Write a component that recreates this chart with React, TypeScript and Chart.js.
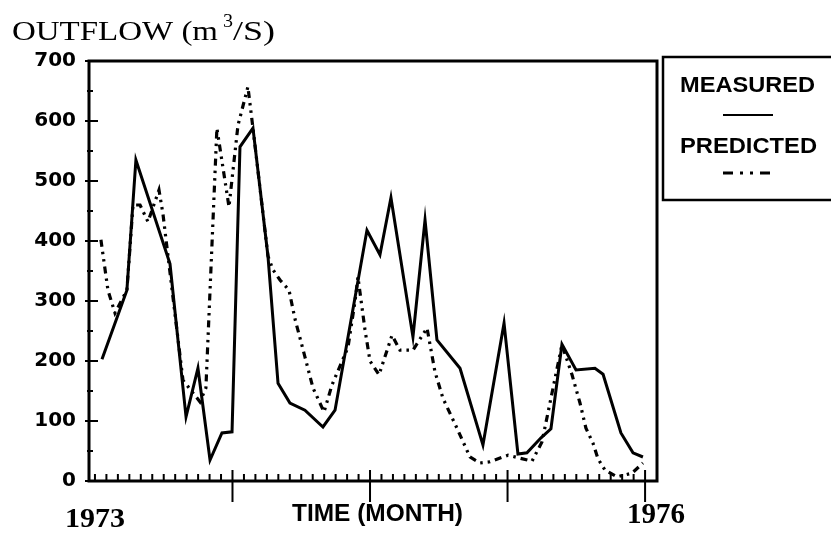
import { useEffect, useRef } from "react";
import { Chart, registerables } from "chart.js";

Chart.register(...registerables);

// ---- data (x in months since Jan 1973, y in m3/s) ----
const measuredMonth = [0.46, 2.09, 2.68, 4.91, 5.96, 6.74, 7.53, 8.31, 8.97, 9.49, 10.34, 11.32, 11.98, 12.76, 13.74, 14.92, 15.71, 17.8, 18.65, 19.37, 20.81, 21.6, 22.38, 23.89, 25.39, 26.77, 27.68, 28.27, 29.19, 29.84, 30.56, 31.48, 32.72, 33.25, 34.42, 35.21, 35.86];
const measuredFlow = [203, 318, 535, 362, 107, 188, 35, 80, 82, 557, 588, 375, 163, 130, 118, 90, 118, 418, 377, 472, 240, 435, 235, 188, 60, 263, 45, 47, 72, 87, 228, 185, 188, 178, 80, 47, 40];

const predictedMonth = [0.39, 0.85, 1.31, 2.09, 2.49, 2.95, 3.47, 4.19, 4.45, 5.04, 5.76, 6.87, 7.26, 7.98, 8.77, 9.36, 10.01, 10.34, 11.32, 11.65, 12.11, 12.7, 13.09, 13.74, 14.27, 14.99, 15.51, 16.56, 17.02, 17.21, 17.67, 18.0, 18.59, 19.44, 19.96, 20.81, 21.73, 22.25, 22.77, 23.69, 24.54, 25.2, 25.85, 27.03, 28.6, 29.25, 30.56, 31.22, 31.74, 32.13, 32.59, 32.92, 33.38, 34.16, 35.14, 35.86];
const predictedFlow = [402, 318, 280, 318, 460, 460, 432, 485, 445, 320, 168, 132, 155, 588, 457, 593, 657, 588, 375, 352, 335, 318, 270, 207, 155, 115, 160, 223, 300, 340, 252, 200, 177, 243, 218, 218, 255, 182, 138, 88, 40, 30, 32, 43, 33, 65, 227, 177, 130, 88, 63, 37, 18, 7, 13, 30];

const yMin = 0;
const yMax = 700;
const yStep = 100;
const yMinorStep = 50;
const xMin = -0.39;
const xMax = 36.78;
const majorMonthTicks = [9, 18, 27, 36];
const minorMonthStep = 0.75;
const startYearLabel = "1973";
const endYearLabel = "1976";
const xAxisTitle = "TIME (MONTH)";
const yTitleMain = "OUTFLOW (m";
const yTitleSup = "3";
const yTitleEnd = "/S)";
const legendLabels = ["MEASURED", "PREDICTED"];

const SERIF = "'Liberation Serif', 'DejaVu Serif', serif";
const SANS = "'Liberation Sans', Arial, sans-serif";

function fitText(ctx: CanvasRenderingContext2D, text: string, font: string, left: number, baseline: number, width: number) {
  ctx.save();
  ctx.font = font;
  ctx.textAlign = "left";
  ctx.textBaseline = "alphabetic";
  const w = ctx.measureText(text).width;
  ctx.translate(left, baseline);
  ctx.scale(width / w, 1);
  ctx.fillStyle = "#000";
  ctx.fillText(text, 0, 0);
  ctx.restore();
}

const framePlugin = {
  id: "frameTicks",
  afterDatasetsDraw(chart: any) {
    const { ctx, chartArea: a, scales } = chart;
    const x = scales.x;
    const y = scales.y;
    ctx.save();
    ctx.strokeStyle = "#000";
    ctx.lineWidth = 3;
    ctx.strokeRect(a.left, a.top, a.right - a.left, a.bottom - a.top);

    ctx.lineWidth = 2;
    ctx.beginPath();
    for (let m = 0; m <= 36 + 1e-6; m += minorMonthStep) {
      const px = x.getPixelForValue(m);
      ctx.moveTo(px, a.bottom);
      ctx.lineTo(px, a.bottom - 7);
    }
    for (const m of majorMonthTicks) {
      const px = x.getPixelForValue(m);
      ctx.moveTo(px, a.bottom - 11);
      ctx.lineTo(px, a.bottom + 21);
    }
    for (let v = yMin; v <= yMax; v += yMinorStep) {
      const py = y.getPixelForValue(v);
      const major = v % yStep === 0;
      ctx.moveTo(a.left - (major ? 4 : 2), py);
      ctx.lineTo(a.left + (major ? 9 : 4), py);
    }
    ctx.stroke();
    ctx.restore();
  },
  afterDraw(chart: any) {
    const ctx: CanvasRenderingContext2D = chart.ctx;
    // y title
    fitText(ctx, yTitleMain, `27px ${SERIF}`, 12, 40, 206);
    fitText(ctx, yTitleSup, `19px ${SERIF}`, 223, 27, 10);
    fitText(ctx, yTitleEnd, `27px ${SERIF}`, 233, 40, 42);
    // x labels
    fitText(ctx, startYearLabel, `bold 28px ${SERIF}`, 65, 527, 60);
    fitText(ctx, endYearLabel, `bold 29px ${SERIF}`, 627, 523, 58);
    fitText(ctx, xAxisTitle, `bold 24px ${SANS}`, 292, 521, 171);
    // legend
    ctx.save();
    ctx.strokeStyle = "#000";
    ctx.lineWidth = 2.5;
    ctx.strokeRect(663, 57, 200, 143);
    fitText(ctx, legendLabels[0], `bold 22px ${SANS}`, 680, 92, 135);
    fitText(ctx, legendLabels[1], `bold 22px ${SANS}`, 680, 153, 137);
    ctx.lineWidth = 2;
    ctx.beginPath();
    ctx.moveTo(723, 115);
    ctx.lineTo(773, 115);
    ctx.stroke();
    ctx.lineWidth = 3;
    ctx.setLineDash([10, 7, 3, 7, 3, 7]);
    ctx.beginPath();
    ctx.moveTo(723, 173);
    ctx.lineTo(773, 173);
    ctx.stroke();
    ctx.restore();
  },
};

export default function App() {
  const ref = useRef<HTMLCanvasElement | null>(null);
  useEffect(() => {
    if (!ref.current) return;
    const chart = new Chart(ref.current, {
      type: "line",
      data: {
        datasets: [
          {
            label: legendLabels[0],
            data: measuredMonth.map((m, i) => ({ x: m, y: measuredFlow[i] })),
            borderColor: "#000",
            borderWidth: 3,
            pointRadius: 0,
            tension: 0,
            fill: false,
          },
          {
            label: legendLabels[1],
            data: predictedMonth.map((m, i) => ({ x: m, y: predictedFlow[i] })),
            borderColor: "#000",
            borderWidth: 3.2,
            borderDash: [7, 5, 2.5, 5, 2.5, 5],
            pointRadius: 0,
            tension: 0,
            fill: false,
          },
        ],
      },
      options: {
        responsive: false,
        animation: false,
        layout: { padding: { left: 0, top: 61, right: 174, bottom: 0 } },
        plugins: { legend: { display: false }, tooltip: { enabled: false } },
        scales: {
          x: {
            type: "linear",
            min: xMin,
            max: xMax,
            ticks: { display: false },
            grid: { display: false, drawTicks: false },
            border: { display: false },
            afterFit: (s: any) => {
              s.height = 53;
            },
          },
          y: {
            min: yMin,
            max: yMax,
            ticks: {
              stepSize: yStep,
              color: "#000",
              padding: 13,
              font: { family: "'DejaVu Sans', sans-serif", weight: "bold", size: 20 },
            },
            grid: { display: false, drawTicks: false },
            border: { display: false },
            afterFit: (s: any) => {
              s.width = 89;
            },
          },
        },
      },
      plugins: [framePlugin],
    } as any);
    return () => chart.destroy();
  }, []);
  return (
    <div style={{ position: "absolute", left: 0, top: 0, width: 831, height: 534, background: "#fff" }}>
      <canvas ref={ref} width={831} height={534} style={{ display: "block" }} />
    </div>
  );
}
